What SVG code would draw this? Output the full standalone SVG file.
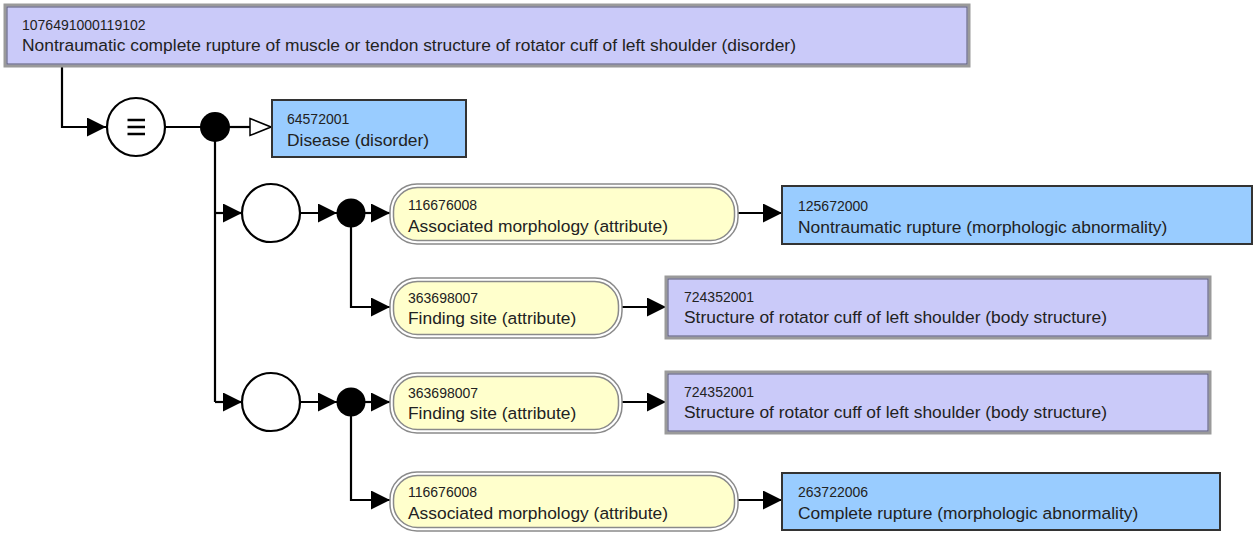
<svg xmlns="http://www.w3.org/2000/svg" width="1254" height="534" viewBox="0 0 1254 534">
<defs>
<style>
.prim{fill:#cacaf9;stroke:#9a9a9a;stroke-width:3}
.primin{fill:none;stroke:#5a5a70;stroke-width:1}
.def{fill:#99ccff;stroke:#333;stroke-width:2}
.attr{fill:#ffffcc;stroke:#8a8a8a;stroke-width:1.5}
.attrout{fill:#fff;stroke:#8a8a8a;stroke-width:1.5}
.id{font-family:"Liberation Sans",Arial,sans-serif;font-size:14px;fill:#222}
.nm{font-family:"Liberation Sans",Arial,sans-serif;font-size:17.4px;fill:#222}
.ln{fill:none;stroke:#000;stroke-width:2.2}
.arr{marker-end:url(#ah)}
.ring{fill:#fff;stroke:#000;stroke-width:2.2}
.dot{fill:#000}
</style>
<marker id="ah" viewBox="0 0 19 19" refX="19" refY="9.5" markerWidth="19" markerHeight="19" markerUnits="userSpaceOnUse" orient="auto">
<path d="M0,0 L19,9.5 L0,19 z" fill="#000"/>
</marker>
<marker id="oh" viewBox="0 0 23 20" refX="1" refY="10" markerWidth="23" markerHeight="20" markerUnits="userSpaceOnUse" orient="auto">
<path d="M1,1.5 L22,10 L1,18.5 z" fill="#fff" stroke="#000" stroke-width="1.5"/>
</marker>
</defs>

<g id="connectors">
<path class="ln arr" d="M62,66 V127 H106"/>
<line class="ln" x1="165" y1="127" x2="201" y2="127"/>
<line class="ln" x1="229" y1="127" x2="250" y2="127" marker-end="url(#oh)"/>
<path class="ln" d="M215,127 V402"/>
<path class="ln arr" d="M215,213 H242"/>
<path class="ln arr" d="M215,402 H242"/>
<path class="ln arr" d="M300,213 H337"/>
<path class="ln arr" d="M300,402 H337"/>
<path class="ln arr" d="M365,213 H390"/>
<path class="ln arr" d="M365,402 H390"/>
<path class="ln arr" d="M351,213 V307 H390"/>
<path class="ln arr" d="M351,402 V500 H390"/>
<path class="ln arr" d="M738,213 H782"/>
<path class="ln arr" d="M622,307 H666"/>
<path class="ln arr" d="M622,402 H666"/>
<path class="ln arr" d="M738,500 H782"/>
</g>

<g id="equiv">
<circle class="ring" cx="136" cy="127" r="29"/>
<path d="M127.5,120 H145 M127.5,127 H145 M127.5,134 H145" stroke="#000" stroke-width="2.6"/>
</g>
<g id="conj0"><circle class="dot" cx="215" cy="127" r="15"/></g>
<g id="group1"><circle class="ring" cx="271" cy="213" r="29"/></g>
<g id="conj1"><circle class="dot" cx="351" cy="213" r="14.5"/></g>
<g id="group2"><circle class="ring" cx="271" cy="402" r="29"/></g>
<g id="conj2"><circle class="dot" cx="351" cy="402" r="14.5"/></g>

<g id="n1076491000119102">
<rect class="prim" x="5" y="5" width="964" height="61"/>
<rect class="primin" x="7" y="7" width="960" height="57"/>
<text class="id" x="22" y="30">1076491000119102</text>
<text class="nm" x="22" y="51">Nontraumatic complete rupture of muscle or tendon structure of rotator cuff of left shoulder (disorder)</text>
</g>

<g id="n64572001">
<rect class="def" x="272" y="100" width="194" height="57"/>
<text class="id" x="287" y="124">64572001</text>
<text class="nm" x="287" y="146">Disease (disorder)</text>
</g>

<g id="a1">
<rect class="attrout" x="390" y="184" width="348" height="60" rx="27"/>
<rect class="attr" x="393.5" y="187.5" width="341" height="53" rx="24"/>
<text class="id" x="408" y="210">116676008</text>
<text class="nm" x="408" y="232">Associated morphology (attribute)</text>
</g>

<g id="n125672000">
<rect class="def" x="782" y="186" width="470" height="58"/>
<text class="id" x="798" y="211">125672000</text>
<text class="nm" x="798" y="233">Nontraumatic rupture (morphologic abnormality)</text>
</g>

<g id="a2">
<rect class="attrout" x="390" y="278" width="232" height="60" rx="27"/>
<rect class="attr" x="393.5" y="281.5" width="225" height="53" rx="24"/>
<text class="id" x="408" y="303">363698007</text>
<text class="nm" x="408" y="324">Finding site (attribute)</text>
</g>

<g id="n724352001a">
<rect class="prim" x="666" y="277" width="544" height="61"/>
<rect class="primin" x="668" y="279" width="540" height="57"/>
<text class="id" x="684" y="302">724352001</text>
<text class="nm" x="684" y="323">Structure of rotator cuff of left shoulder (body structure)</text>
</g>

<g id="a3">
<rect class="attrout" x="390" y="373" width="232" height="60" rx="27"/>
<rect class="attr" x="393.5" y="376.5" width="225" height="53" rx="24"/>
<text class="id" x="408" y="398">363698007</text>
<text class="nm" x="408" y="419">Finding site (attribute)</text>
</g>

<g id="n724352001b">
<rect class="prim" x="666" y="372" width="544" height="61"/>
<rect class="primin" x="668" y="374" width="540" height="57"/>
<text class="id" x="684" y="397">724352001</text>
<text class="nm" x="684" y="418">Structure of rotator cuff of left shoulder (body structure)</text>
</g>

<g id="a4">
<rect class="attrout" x="390" y="472" width="348" height="59" rx="27"/>
<rect class="attr" x="393.5" y="475.5" width="341" height="52" rx="24"/>
<text class="id" x="408" y="497">116676008</text>
<text class="nm" x="408" y="519">Associated morphology (attribute)</text>
</g>

<g id="n263722006">
<rect class="def" x="782" y="473" width="438" height="57"/>
<text class="id" x="798" y="497">263722006</text>
<text class="nm" x="798" y="519">Complete rupture (morphologic abnormality)</text>
</g>
</svg>
